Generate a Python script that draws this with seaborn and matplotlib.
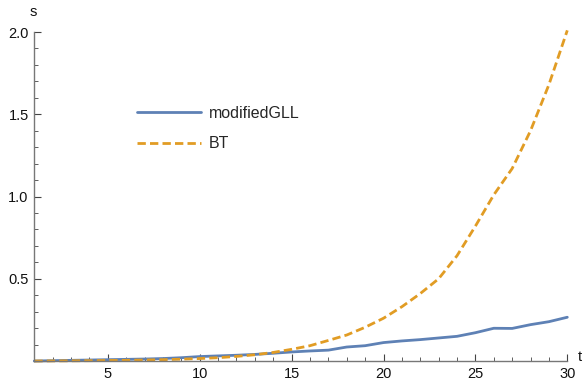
import numpy as np
import pandas as pd
import matplotlib
matplotlib.use("Agg")
import matplotlib.pyplot as plt
import seaborn as sns
from matplotlib.ticker import MultipleLocator

# data
t = list(range(1, 31))
gll = [0.0, 0.002, 0.004, 0.006, 0.008, 0.010, 0.012, 0.015, 0.020, 0.027,
       0.031, 0.035, 0.040, 0.047, 0.055, 0.061, 0.066, 0.085, 0.093, 0.112,
       0.122, 0.130, 0.140, 0.150, 0.172, 0.199, 0.198, 0.221, 0.239, 0.266]
bt = [0.0, 0.0005, 0.001, 0.002, 0.003, 0.004, 0.006, 0.008, 0.011, 0.015,
      0.020, 0.028, 0.038, 0.052, 0.071, 0.093, 0.125, 0.158, 0.205, 0.260,
      0.330, 0.410, 0.500, 0.640, 0.820, 1.010, 1.170, 1.400, 1.680, 2.010]
series_names = ["modifiedGLL", "BT"]
colors = ["#5E81B5", "#E19C24"]

df = pd.concat([
    pd.DataFrame({"t": t, "s": gll, "method": series_names[0]}),
    pd.DataFrame({"t": t, "s": bt, "method": series_names[1]}),
], ignore_index=True)

sns.set_style("white")
plt.rcParams["font.family"] = ["Liberation Sans", "DejaVu Sans"]

fig = plt.figure(figsize=(5.84, 3.82), dpi=100)
ax = fig.add_axes([34.3 / 584, 21 / 382, 533 / 584, 329 / 382])

sns.lineplot(data=df, x="t", y="s", hue="method", style="method",
             palette=dict(zip(series_names, colors)),
             dashes={"modifiedGLL": "", "BT": (3.0, 1.5)},
             linewidth=2.0, ax=ax, clip_on=False)

ax.set_xlim(1, 30)
ax.set_ylim(0, 2.0)
ax.xaxis.set_major_locator(MultipleLocator(5))
ax.xaxis.set_minor_locator(MultipleLocator(1))
ax.yaxis.set_minor_locator(MultipleLocator(0.1))
ax.set_yticks([0.5, 1.0, 1.5, 2.0])
ax.set_yticklabels(["0.5", "1.0", "1.5", "2.0"])
ax.tick_params(which="major", direction="in", length=5, width=0.8,
               color="#444444", labelsize=10.5, labelcolor="#111111", pad=4)
ax.tick_params(which="minor", direction="in", length=3, width=0.6,
               color="#444444")
ax.tick_params(axis="x", which="both", bottom=True)
ax.tick_params(axis="y", which="both", left=True)

for side in ["top", "right"]:
    ax.spines[side].set_visible(False)
for side in ["left", "bottom"]:
    ax.spines[side].set_color("#777777")
    ax.spines[side].set_linewidth(1.0)

ax.set_xlabel("")
ax.set_ylabel("")
fig.text(33 / 584, 1 - 12 / 382, "s", ha="center", va="center", fontsize=10.5, color="#111111")
fig.text(580 / 584, 1 - 357 / 382, "t", ha="center", va="center", fontsize=10.5, color="#111111")

ax.legend(title=None, frameon=False, loc="upper left",
          bbox_to_anchor=(137 / 584, 1 - 106 / 382), bbox_transform=fig.transFigure,
          borderaxespad=0, borderpad=0, handlelength=4.0, handletextpad=0.5,
          labelspacing=0.95, fontsize=11.5)

fig.savefig("out.png", dpi=100)
